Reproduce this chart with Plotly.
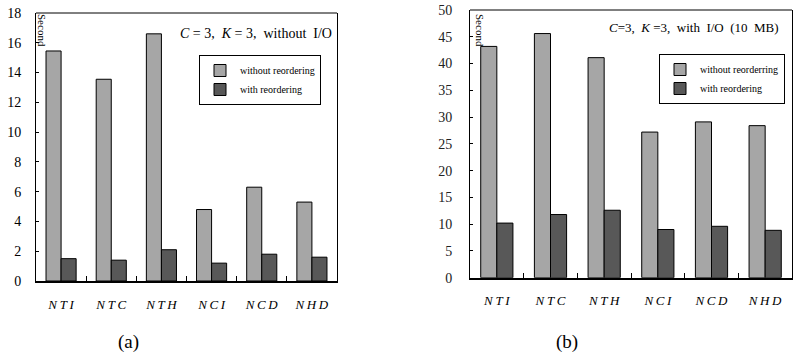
import plotly.graph_objects as go

categories = ["NTI", "NTC", "NTH", "NCI", "NCD", "NHD"]
a_without = [15.45, 13.55, 16.6, 4.8, 6.3, 5.3]
a_with = [1.5, 1.4, 2.1, 1.2, 1.8, 1.6]
b_without = [43.2, 45.6, 41.1, 27.2, 29.1, 28.4]
b_with = [10.2, 11.8, 12.6, 9.0, 9.6, 8.85]

cat_labels = ["<i>%s</i>" % "\u2009".join(c) for c in categories]
GREY = "#a6a6a6"
DARK = "#585858"
SERIF = "Liberation Serif"
NB = "\u00a0"
BW = 0.3

fig = go.Figure()
fig.add_trace(go.Bar(x=cat_labels, y=a_without, name="without reordering",
                     width=BW, offset=-BW,
                     marker=dict(color=GREY, line=dict(color="black", width=1)),
                     xaxis="x", yaxis="y", legend="legend"))
fig.add_trace(go.Bar(x=cat_labels, y=a_with, name="with reordering",
                     width=BW, offset=0,
                     marker=dict(color=DARK, line=dict(color="black", width=1)),
                     xaxis="x", yaxis="y", legend="legend"))
fig.add_trace(go.Bar(x=cat_labels, y=b_without, name="without reorderring",
                     width=BW, offset=-BW,
                     marker=dict(color=GREY, line=dict(color="black", width=1)),
                     xaxis="x2", yaxis="y2", legend="legend2"))
fig.add_trace(go.Bar(x=cat_labels, y=b_with, name="with reordering",
                     width=BW, offset=0,
                     marker=dict(color=DARK, line=dict(color="black", width=1)),
                     xaxis="x2", yaxis="y2", legend="legend2"))

xcommon = dict(type="category", showline=True, linecolor="black", linewidth=2,
               ticks="inside", tickson="boundaries", ticklen=5, tickcolor="black",
               tickfont=dict(family=SERIF, size=13, color="black"),
               ticklabelstandoff=10, showgrid=False, zeroline=False,
               automargin=False, fixedrange=True)
ycommon = dict(showline=True, linecolor="black", linewidth=1, mirror=True,
               ticks="inside", ticklen=3, tickcolor="black",
               showgrid=False, zeroline=False, automargin=False, fixedrange=True)

def ann(text, x, y, size, xanchor="center", angle=0):
    return dict(text=text, x=x / 793, y=1 - y / 358, xref="paper", yref="paper",
                xanchor=xanchor, yanchor="middle", textangle=angle, showarrow=False,
                font=dict(family=SERIF, size=size, color="black"))

fig.update_layout(
    template="none",
    width=793, height=358,
    margin=dict(l=0, r=0, t=0, b=0, autoexpand=False),
    paper_bgcolor="white", plot_bgcolor="white",
    barmode="overlay",
    showlegend=True,
    xaxis=dict(domain=[36/793, 337/793], anchor="y", **xcommon),
    yaxis=dict(domain=[(358-281)/358, (358-13)/358], anchor="x", range=[0, 18],
               dtick=2, ticklabelstandoff=11,
               tickfont=dict(family=SERIF, size=14, color="black"), **ycommon),
    xaxis2=dict(domain=[470/793, 792/793], anchor="y2", **xcommon),
    yaxis2=dict(domain=[(358-277.7)/358, (358-10)/358], anchor="x2", range=[0, 50],
                dtick=5, ticklabelstandoff=14,
                tickfont=dict(family=SERIF, size=14, color="#222"), **ycommon),
    legend=dict(x=199/793, y=1-55/358, xanchor="left", yanchor="top",
                bordercolor="black", borderwidth=1, bgcolor="white",
                font=dict(family=SERIF, size=10, color="black"),
                itemwidth=30, tracegroupgap=0),
    legend2=dict(x=659/793, y=1-54/358, xanchor="left", yanchor="top",
                 bordercolor="black", borderwidth=1, bgcolor="white",
                 font=dict(family=SERIF, size=10, color="black"),
                 itemwidth=30, tracegroupgap=0),
    annotations=[
        ann("<i>C</i> = 3,  <i>K</i> = 3,  without" + NB * 2 + "I/O", 334, 33, 14, "right"),
        ann("<i>C</i>=3," + NB * 2 + "<i>K</i>" + NB + "=3," + NB * 2 + "with" + NB * 2
            + "I/O" + NB * 2 + "(10" + NB * 2 + "MB)", 781, 27, 13, "right"),
        ann("Second", 42, 30, 11, angle=90),
        ann("Second", 480, 30, 11, angle=90),
        ann("(a)", 128, 342, 19),
        ann("(b)", 567, 342, 19),
    ],
)
fig.add_shape(type="line", xref="x domain", yref="y domain", x0=0, x1=1, y0=1, y1=1,
              line=dict(color="black", width=1))
fig.add_shape(type="line", xref="x2 domain", yref="y2 domain", x0=0, x1=1, y0=1, y1=1,
              line=dict(color="black", width=1))

fig.write_html("out.html")
